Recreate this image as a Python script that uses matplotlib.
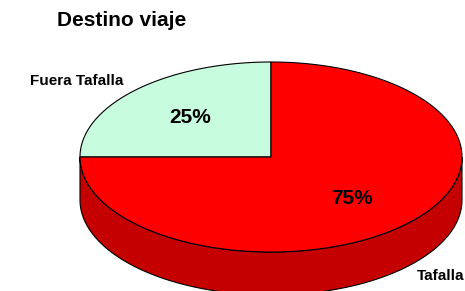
import numpy as np
import matplotlib
matplotlib.use("Agg")
import matplotlib.pyplot as plt
from matplotlib.patches import Polygon

plt.rcParams['font.family'] = ['Liberation Sans', 'DejaVu Sans']

# data
categories = ['Fuera Tafalla', 'Tafalla']
values = [25, 75]
top_colors = ['#C8FCDE', '#FF0000']
side_colors = ['#9CC8B0', '#C40000']

W, H = 465, 291
fig = plt.figure(figsize=(W / 100, H / 100), dpi=100)
ax = fig.add_axes([0, 0, 1, 1])
ax.set_xlim(0, W)
ax.set_ylim(H, 0)
ax.axis('off')

# ellipse geometry in pixels
cx, cy = 271, 157
rx, ry = 191, 95
depth = 43

def pt(theta, dy=0):
    t = np.radians(theta)
    return cx + rx * np.cos(t), cy - ry * np.sin(t) + dy

total = sum(values)
angles = [90]
for v in values:
    angles.append(angles[-1] + 360 * v / total)

# side walls (only the front half, 180..360 deg, is visible)
for i in range(len(values)):
    a0, a1 = angles[i], angles[i + 1]
    for off in (0, 360, -360):
        s0 = max(a0 + off, 180)
        s1 = min(a1 + off, 360)
        if s1 > s0:
            th = np.linspace(s0, s1, 120)
            top = [pt(t) for t in th]
            bot = [pt(t, depth) for t in th[::-1]]
            ax.add_patch(Polygon(top + bot, closed=True, facecolor=side_colors[i],
                                 edgecolor='black', lw=0.8, zorder=1))

# top faces
for i in range(len(values)):
    a0, a1 = angles[i], angles[i + 1]
    th = np.linspace(a0, a1, 200)
    verts = [(cx, cy)] + [pt(t) for t in th]
    ax.add_patch(Polygon(verts, closed=True, facecolor=top_colors[i],
                         edgecolor='black', lw=0.8, zorder=2))
    mid = (a0 + a1) / 2
    t = np.radians(mid)
    ax.text(cx + 0.6 * rx * np.cos(t), cy - 0.6 * ry * np.sin(t) + 1,
            f'{values[i] / total * 100:.0f}%', ha='center', va='center',
            fontsize=15, fontweight='bold', zorder=3)

ax.text(77, 81, categories[0], ha='center', va='center', fontsize=11, fontweight='bold')
ax.text(441, 276, categories[1], ha='center', va='center', fontsize=11, fontweight='bold')

ax.text(57, 21, 'Destino viaje', ha='left', va='center', fontsize=15, fontweight='bold')

fig.savefig('out.png', dpi=100)
